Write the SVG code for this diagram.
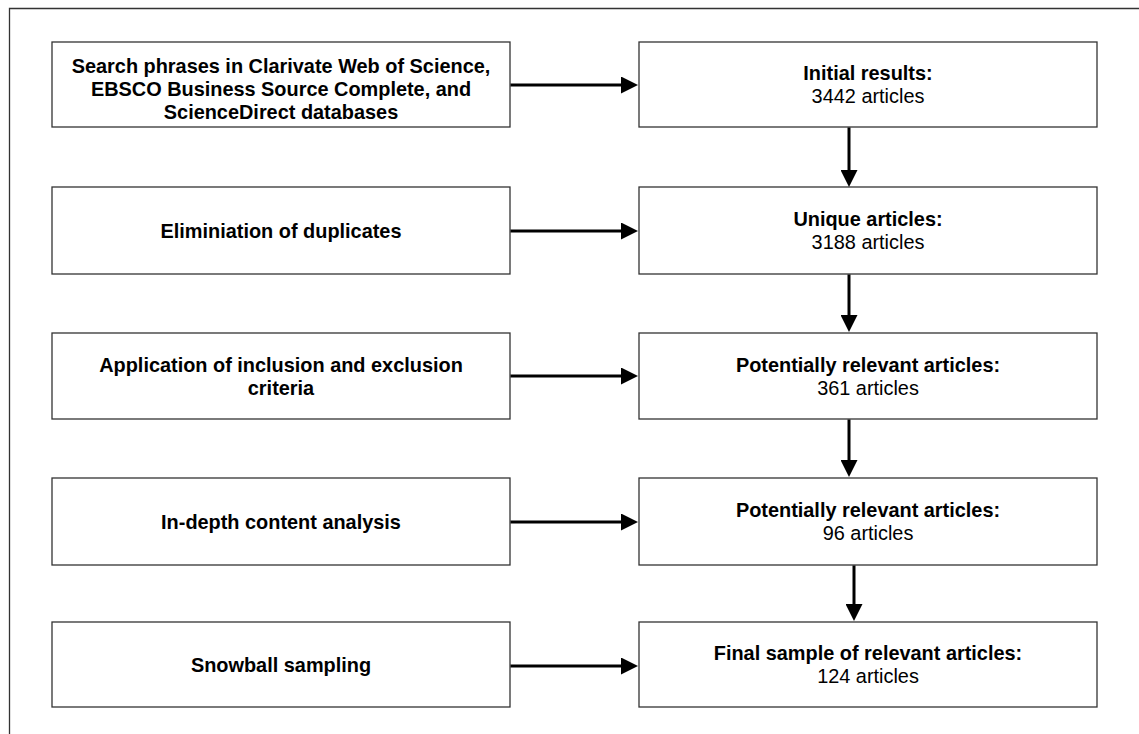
<svg xmlns="http://www.w3.org/2000/svg" width="1139" height="734" viewBox="0 0 1139 734">
<style>
.box{fill:#fff;stroke:#333;stroke-width:1.3}
.frame{fill:none;stroke:#333;stroke-width:1.3}
.t{font-family:"Liberation Sans",Arial,sans-serif;font-size:19.9px;fill:#000;text-anchor:middle}
.b{font-weight:bold}
.conn{stroke:#000;stroke-width:3;fill:none;marker-end:url(#ah)}
</style>
<defs>
<marker id="ah" markerUnits="userSpaceOnUse" markerWidth="17" markerHeight="17" viewBox="0 0 17 17" refX="9" refY="8.5" orient="auto">
<path d="M0,0 L17,8.5 L0,17 z" fill="#000"/>
</marker>
</defs>
<rect width="1139" height="734" fill="#fff"/>
<path class="frame" d="M9.5,734 V8.5 H1139"/>
<g id="n1"><rect class="box" x="52" y="42" width="458" height="85"/>
<text class="t b" x="281" y="73">Search phrases in Clarivate Web of Science,</text>
<text class="t b" x="281" y="96">EBSCO Business Source Complete, and</text>
<text class="t b" x="281" y="119">ScienceDirect databases</text></g>
<g id="r1"><rect class="box" x="639" y="42" width="458" height="85"/>
<text class="t b" x="868" y="80">Initial results:</text>
<text class="t" x="868" y="103">3442 articles</text></g>
<g id="n2"><rect class="box" x="52" y="187" width="458" height="87"/>
<text class="t b" x="281" y="238">Eliminiation of duplicates</text></g>
<g id="r2"><rect class="box" x="639" y="187" width="458" height="87"/>
<text class="t b" x="868" y="226">Unique articles:</text>
<text class="t" x="868" y="249">3188 articles</text></g>
<g id="n3"><rect class="box" x="52" y="333" width="458" height="86"/>
<text class="t b" x="281" y="371.5">Application of inclusion and exclusion</text>
<text class="t b" x="281" y="394.5">criteria</text></g>
<g id="r3"><rect class="box" x="639" y="333" width="458" height="86"/>
<text class="t b" x="868" y="371.5">Potentially relevant articles:</text>
<text class="t" x="868" y="394.5">361 articles</text></g>
<g id="n4"><rect class="box" x="52" y="478" width="458" height="87"/>
<text class="t b" x="281" y="528.5">In-depth content analysis</text></g>
<g id="r4"><rect class="box" x="639" y="478" width="458" height="87"/>
<text class="t b" x="868" y="517">Potentially relevant articles:</text>
<text class="t" x="868" y="540">96 articles</text></g>
<g id="n5"><rect class="box" x="52" y="622" width="458" height="85"/>
<text class="t b" x="281" y="671.5">Snowball sampling</text></g>
<g id="r5"><rect class="box" x="639" y="622" width="458" height="85"/>
<text class="t b" x="868" y="660">Final sample of relevant articles:</text>
<text class="t" x="868" y="683">124 articles</text></g>
<g id="connectors">
<line class="conn" x1="510.5" y1="85" x2="630" y2="85"/>
<line class="conn" x1="510.5" y1="231" x2="630" y2="231"/>
<line class="conn" x1="510.5" y1="376" x2="630" y2="376"/>
<line class="conn" x1="510.5" y1="522" x2="630" y2="522"/>
<line class="conn" x1="510.5" y1="666" x2="630" y2="666"/>
<line class="conn" x1="849" y1="127.5" x2="849" y2="179"/>
<line class="conn" x1="849" y1="274.5" x2="849" y2="324"/>
<line class="conn" x1="849" y1="419.5" x2="849" y2="469"/>
<line class="conn" x1="854" y1="565.5" x2="854" y2="613"/>
</g>
</svg>
